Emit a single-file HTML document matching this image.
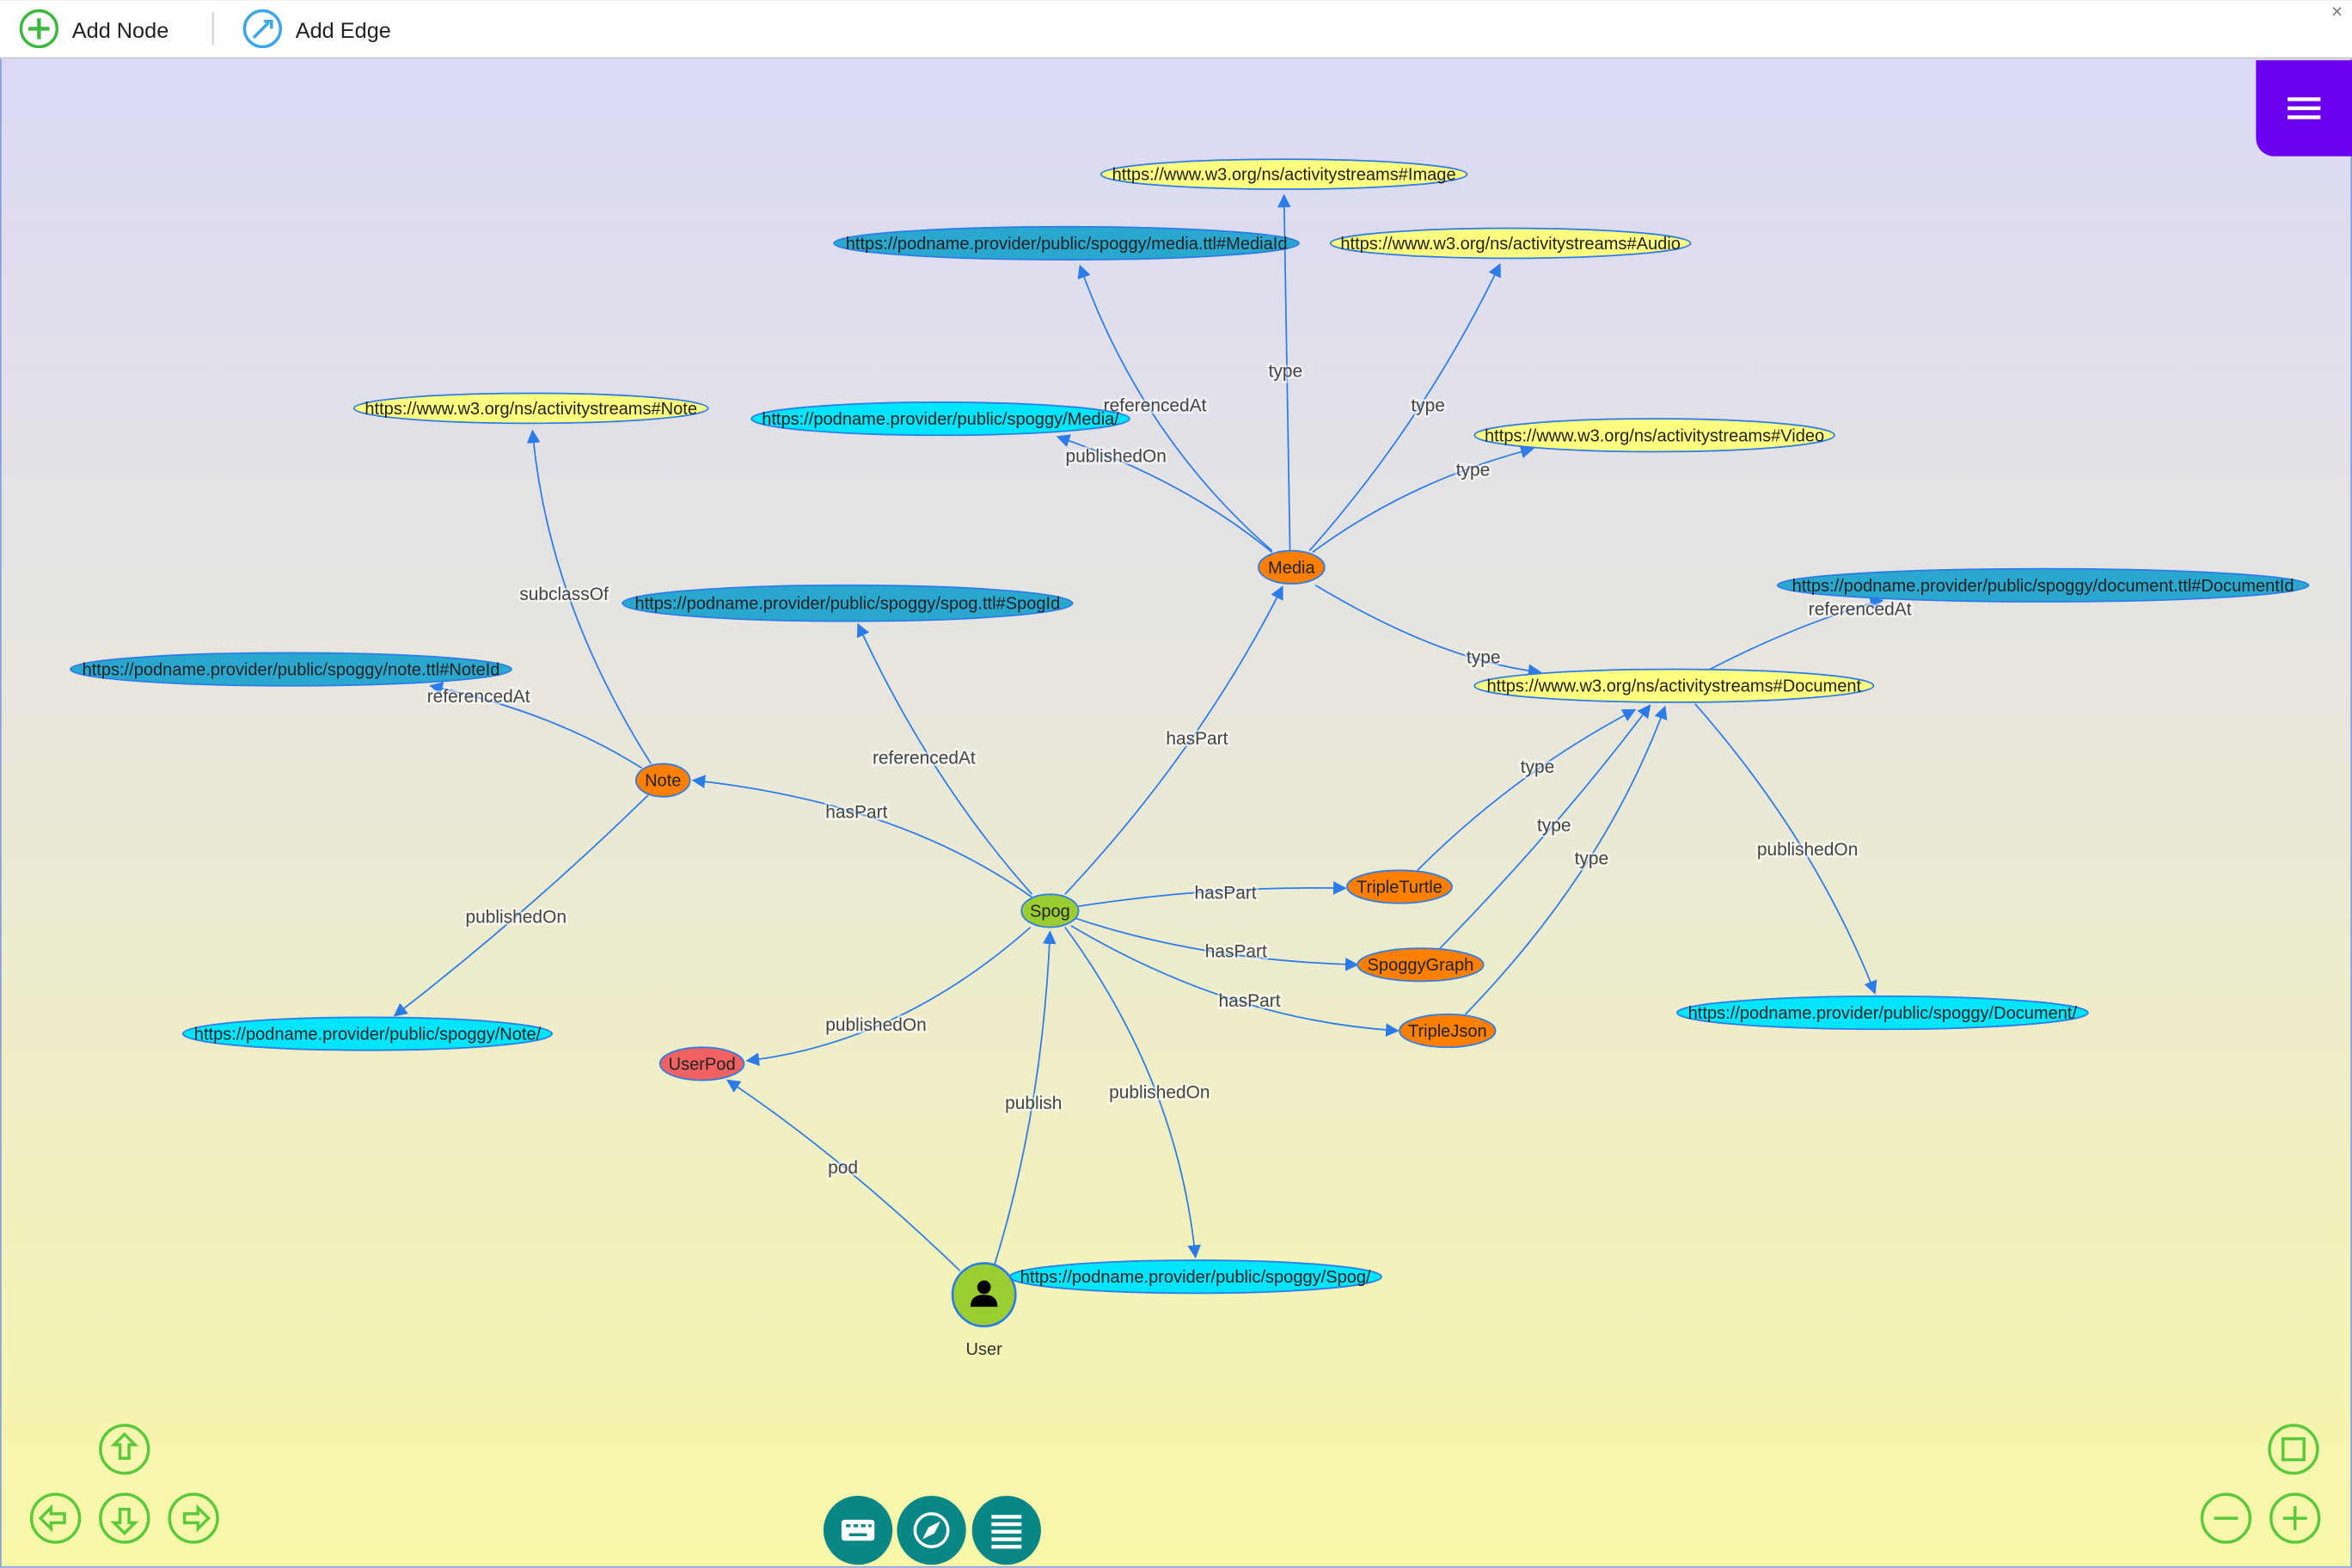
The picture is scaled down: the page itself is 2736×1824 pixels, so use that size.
<!DOCTYPE html>
<html><head><meta charset="utf-8"><style>
html,body{margin:0;padding:0;width:2736px;height:1824px;overflow:hidden;}
svg{display:block}
text{font-family:"Liberation Sans",sans-serif;}
</style></head><body>
<svg width="2736" height="1824" viewBox="0 0 1568 1045" xmlns="http://www.w3.org/2000/svg">
<defs>
<linearGradient id="bg" x1="0" y1="0" x2="0" y2="1">
<stop offset="0" stop-color="#d8d8f8"/><stop offset="0.45" stop-color="#e8e6dc"/><stop offset="1" stop-color="#f8f8a8"/>
</linearGradient>
<marker id="ar" viewBox="0 0 10 10" refX="9" refY="5" markerWidth="9" markerHeight="9" orient="auto" markerUnits="userSpaceOnUse">
<path d="M0,0 L10,5 L0,10 z" fill="#2b7ce9"/></marker>
</defs>
<rect x="0" y="0" width="1568" height="1045" fill="url(#bg)"/>
<rect x="0.5" y="0.5" width="1567" height="1044" fill="none" stroke="#8aa0d8"/>
<rect x="0" y="0" width="1568" height="38" fill="#fff"/>
<line x1="0" y1="38.5" x2="1568" y2="38.5" stroke="#ccc"/>
<circle cx="26" cy="19" r="12" fill="none" stroke="#3cb83c" stroke-width="2"/>
<path d="M26 12v14M19 19h14" stroke="#3cb83c" stroke-width="2.5"/>
<text x="48" y="25" font-size="14.5" fill="#222">Add Node</text>
<line x1="142" y1="8" x2="142" y2="30" stroke="#ccc"/>
<circle cx="175" cy="19" r="12" fill="none" stroke="#3aa8e8" stroke-width="2"/>
<path d="M169 25l10-10M176 14l5 0 0 5" stroke="#3aa8e8" stroke-width="2" fill="none"/>
<text x="197" y="25" font-size="14.5" fill="#222">Add Edge</text>
<text x="1558" y="12" font-size="13" fill="#777" text-anchor="middle">×</text>
<path d="M1504 40h64v64h-52a12 12 0 0 1-12-12z" fill="#6b00f0"/>
<path d="M1525 66h22M1525 72h22M1525 78h22" stroke="#fff" stroke-width="2.5"/>

<g fill="none" stroke="#2b7ce9" stroke-width="1" marker-end="url(#ar)">
<path d="M860 367 Q858 250 856 130"/>
<path d="M848 367 Q760 290 720 177"/>
<path d="M873 367 Q950 280 1000 176"/>
<path d="M848 368 Q790 320 705 291"/>
<path d="M875 368 Q940 320 1022 299"/>
<path d="M877 390 Q960 440 1027 448"/>
<path d="M1140 446 Q1200 415 1255 400"/>
<path d="M1130 469 Q1210 560 1250 662"/>
<path d="M945 580 Q1010 515 1090 473"/>
<path d="M960 632 Q1040 550 1100 470"/>
<path d="M977 676 Q1070 580 1110 471"/>
<path d="M434 509 Q365 400 355 287"/>
<path d="M428 512 Q370 475 287 457"/>
<path d="M432 530 Q350 610 263 677"/>
<path d="M688 598 Q600 535 462 520"/>
<path d="M688 596 Q620 520 572 416"/>
<path d="M710 596 Q800 500 855 391"/>
<path d="M719 604 Q810 590 897 592"/>
<path d="M717 612 Q800 640 905 643"/>
<path d="M714 617 Q820 680 932 687"/>
<path d="M687 618 Q600 695 498 707"/>
<path d="M710 618 Q785 720 797 838"/>
<path d="M663 843 Q695 740 700 621"/>
<path d="M640 847 Q560 770 485 720"/>
</g>

<g font-size="12" fill="#444" text-anchor="middle" stroke="#fff" stroke-width="3" paint-order="stroke" stroke-opacity="0.5">
<text x="857" y="251">type</text>
<text x="770" y="274">referencedAt</text>
<text x="952" y="274">type</text>
<text x="744" y="308">publishedOn</text>
<text x="982" y="317">type</text>
<text x="989" y="442">type</text>
<text x="1240" y="410">referencedAt</text>
<text x="1205" y="570">publishedOn</text>
<text x="1025" y="515">type</text>
<text x="1036" y="554">type</text>
<text x="1061" y="576">type</text>
<text x="376" y="400">subclassOf</text>
<text x="319" y="468">referencedAt</text>
<text x="344" y="615">publishedOn</text>
<text x="571" y="545">hasPart</text>
<text x="616" y="509">referencedAt</text>
<text x="798" y="496">hasPart</text>
<text x="817" y="599">hasPart</text>
<text x="824" y="638">hasPart</text>
<text x="833" y="671">hasPart</text>
<text x="584" y="687">publishedOn</text>
<text x="773" y="732">publishedOn</text>
<text x="689" y="739">publish</text>
<text x="562" y="782">pod</text>
</g>

<g stroke="#2b7ce9" stroke-width="1">
<ellipse cx="856" cy="116" rx="122" ry="10" fill="#ffff80"/>
<ellipse cx="711" cy="162" rx="155" ry="11" fill="#2aa7cf"/>
<ellipse cx="1007" cy="162" rx="120" ry="10" fill="#ffff80"/>
<ellipse cx="354" cy="272" rx="118" ry="10" fill="#ffff80"/>
<ellipse cx="627" cy="279" rx="126" ry="11" fill="#00e5ff"/>
<ellipse cx="1103" cy="290" rx="120" ry="11" fill="#ffff80"/>
<ellipse cx="861" cy="378" rx="22" ry="11" fill="#ff7f00"/>
<ellipse cx="1362" cy="390" rx="177" ry="11" fill="#2aa7cf"/>
<ellipse cx="565" cy="402" rx="150" ry="12" fill="#2aa7cf"/>
<ellipse cx="194" cy="446" rx="147" ry="11" fill="#2aa7cf"/>
<ellipse cx="1116" cy="457" rx="133" ry="11" fill="#ffff80"/>
<ellipse cx="442" cy="520" rx="18" ry="11" fill="#ff7f00"/>
<ellipse cx="933" cy="591" rx="35" ry="11" fill="#ff7f00"/>
<ellipse cx="700" cy="607" rx="19" ry="11" fill="#9acd32"/>
<ellipse cx="947" cy="643" rx="42" ry="11" fill="#ff7f00"/>
<ellipse cx="965" cy="687" rx="32" ry="11" fill="#ff7f00"/>
<ellipse cx="1255" cy="675" rx="137" ry="11" fill="#00e5ff"/>
<ellipse cx="245" cy="689" rx="123" ry="11" fill="#00e5ff"/>
<ellipse cx="468" cy="709" rx="28" ry="11" fill="#f06262"/>
<ellipse cx="797" cy="851" rx="124" ry="11" fill="#00e5ff"/>
<circle cx="656" cy="863" r="21" fill="#9acd32" stroke-width="1.5"/>
</g>
<circle cx="656" cy="858" r="4.5" fill="#000"/>
<path d="M647 871q0-8 9-8t9 8z" fill="#000"/>

<g font-size="11.5" fill="#222" text-anchor="middle">
<text x="856" y="120">https://www.w3.org/ns/activitystreams#Image</text>
<text x="711" y="166">https://podname.provider/public/spoggy/media.ttl#MediaId</text>
<text x="1007" y="166">https://www.w3.org/ns/activitystreams#Audio</text>
<text x="354" y="276">https://www.w3.org/ns/activitystreams#Note</text>
<text x="627" y="283">https://podname.provider/public/spoggy/Media/</text>
<text x="1103" y="294">https://www.w3.org/ns/activitystreams#Video</text>
<text x="861" y="382">Media</text>
<text x="1362" y="394">https://podname.provider/public/spoggy/document.ttl#DocumentId</text>
<text x="565" y="406">https://podname.provider/public/spoggy/spog.ttl#SpogId</text>
<text x="194" y="450">https://podname.provider/public/spoggy/note.ttl#NoteId</text>
<text x="1116" y="461">https://www.w3.org/ns/activitystreams#Document</text>
<text x="442" y="524">Note</text>
<text x="933" y="595">TripleTurtle</text>
<text x="700" y="611">Spog</text>
<text x="947" y="647">SpoggyGraph</text>
<text x="965" y="691">TripleJson</text>
<text x="1255" y="679">https://podname.provider/public/spoggy/Document/</text>
<text x="245" y="693">https://podname.provider/public/spoggy/Note/</text>
<text x="468" y="713">UserPod</text>
<text x="797" y="855">https://podname.provider/public/spoggy/Spog/</text>
<text x="656" y="903" fill="#333">User</text>
</g>

<g fill="none" stroke="#5cc83c" stroke-width="2">
<circle cx="83" cy="966" r="16"/><circle cx="37" cy="1012" r="16"/><circle cx="83" cy="1012" r="16"/><circle cx="129" cy="1012" r="16"/>
<circle cx="1529" cy="966" r="16"/><circle cx="1484" cy="1012" r="16"/><circle cx="1530" cy="1012" r="16"/>
<path d="M83 956l-7 7h4v9h6v-9h4z"/>
<path d="M83 1022l-7-7h4v-9h6v9h4z"/>
<path d="M27 1012l7-7v4h9v6h-9v4z"/>
<path d="M139 1012l-7-7v4h-9v6h9v4z"/>
<path d="M1476 1012h16"/><path d="M1522 1012h16M1530 1004v16"/>
<rect x="1522" y="959" width="14" height="14"/>
</g>
<circle cx="572" cy="1020" r="23" fill="#0b8686"/>
<circle cx="621" cy="1020" r="23" fill="#0b8686"/>
<circle cx="671" cy="1020" r="23" fill="#0b8686"/>
<rect x="561" y="1013" width="22" height="14" rx="2" fill="#fff"/>
<g fill="#0b8686"><rect x="564" y="1016" width="3" height="2"/><rect x="569" y="1016" width="3" height="2"/><rect x="574" y="1016" width="3" height="2"/><rect x="579" y="1016" width="2" height="2"/><rect x="566" y="1022" width="12" height="2"/></g>
<circle cx="621" cy="1020" r="11" fill="none" stroke="#fff" stroke-width="2"/>
<path d="M627 1014l-4 8-8 4 4-8z" fill="#fff"/>
<path d="M661 1011h20M661 1016h20M661 1021h20M661 1026h20M661 1031h20" stroke="#fff" stroke-width="2.5"/>
</svg>
</body></html>
